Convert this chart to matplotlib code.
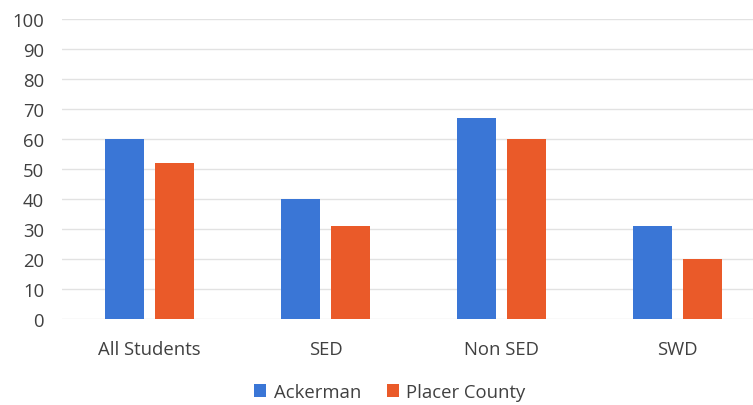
import matplotlib.pyplot as plt
import numpy as np

# Proficiency rates by student group
groups = ['All Students', 'SED', 'Non SED', 'SWD']
ackerman = [60, 40, 67, 31]
placer = [52, 31, 60, 20]
series_names = ['Ackerman', 'Placer County']

blue = '#3a76d6'
orange = '#ea5a29'
txt = '#404040'

plt.rcParams['font.family'] = ['Open Sans', 'DejaVu Sans']

fig = plt.figure(figsize=(7.53, 4.06), dpi=100)
W, H = 753, 406
# plot area runs slightly past the right edge
ax = fig.add_axes([61.5/W, 1-320/H, 704/W, 300/H])

x = np.arange(len(groups))
bw = 0.222
gap = 0.063
ax.bar(x - (bw+gap)/2, ackerman, bw, color=blue, label=series_names[0], zorder=3)
ax.bar(x + (bw+gap)/2, placer, bw, color=orange, label=series_names[1], zorder=3)

ax.set_xlim(-0.5, len(groups)-0.5)
ax.set_ylim(0, 100)
ax.set_yticks(range(0, 101, 10))
ax.yaxis.grid(True, color='#e2e2e2', lw=1, zorder=0)
ax.set_xticks(x)
ax.set_xticklabels(groups)
ax.tick_params(axis='both', length=0, labelsize=13.3, colors=txt)
ax.tick_params(axis='x', pad=15)
ax.tick_params(axis='y', pad=12.5)
for s in ax.spines.values():
    s.set_visible(False)

fig.legend(loc='center', bbox_to_anchor=(390/W, 1-393/H), ncol=2, frameon=False,
           fontsize=13.3, labelcolor=txt, handlelength=0.65, handleheight=0.65,
           handletextpad=0.4, columnspacing=1.4)

fig.savefig('out.png', dpi=100)
